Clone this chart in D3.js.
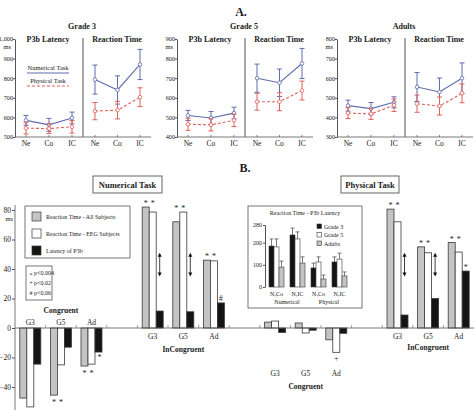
<!DOCTYPE html>
<html>
<head>
<meta charset="utf-8">
<script src="https://cdn.jsdelivr.net/npm/d3@7"></script>
<style>
  body { margin: 0; background: #fff; }
  text { font-family: "Liberation Serif", "DejaVu Serif", serif; fill: #222; }
</style>
</head>
<body>
<script>
// ---- part A: line panels
const conds = ["Ne", "Co", "IC"]
const gradesA = ["Grade 3", "Grade 5", "Adults"]
const yTopA = [1000, 900, 800]
const yBotA = [500, 400, 300]

const p3bNum = [[585, 562, 597], [510, 497, 522], [460, 445, 477]]
const p3bNumErr = [[25, 33, 30], [26, 33, 30], [28, 31, 28]]
const p3bPhy = [[545, 543, 552], [465, 462, 485], [422, 418, 462]]
const p3bPhyErr = [[30, 25, 32], [31, 31, 32], [28, 28, 32]]
const rtNum = [[793, 740, 870], [700, 677, 775], [555, 530, 600]]
const rtNumErr = [[74, 72, 77], [72, 70, 77], [74, 71, 78]]
const rtPhy = [[632, 637, 703], [580, 580, 637], [470, 458, 523]]
const rtPhyErr = [[44, 45, 48], [43, 46, 48], [44, 46, 48]]

// ---- part B: difference bars
const groupsB = ["G3", "G5", "Ad"]
const sectionsB = ["NumCong", "NumInc", "PhyCong", "PhyInc"]
const sectionNames = ["Congruent", "InCongruent", "Congruent", "InCongruent"]
const rtAll = [-47.5, -45.5, -25.8, 82, 72, 46, 4, 3.4, -8, 80.6, 55, 58]
const rtEEG = [-53.5, -25, -24.5, 78.6, 78.6, 45.5, 4.7, -3.4, -16.5, 72, 51, 51.5]
const latP3b = [-24.5, -13, -16.3, 11.5, 11, 17, -3, -1.5, -3.6, 8.8, 20, 38.6]
const markAll = ["*", "*", "*", "*", "*", "*", "", "", "", "*", "*", "*"]
const markEEG = ["*", "*", "*", "*", "*", "*", "", "", "+", "*", "*", "*"]
const markP3b = ["", "", "*", "", "", "#", "", "", "", "", "", "*"]
const arrowIdx = [3, 4, 9, 10]
const arrowSpan = [35, 51]
const yTicksB = [-40, -20, 0, 20, 40, 60, 80]

// ---- inset
const insetCats = ["N,Co", "N,IC", "N,Co", "N,IC"]
const insetG3 = [185, 235, 86, 113]
const insetG3Err = [32, 31, 22, 23]
const insetG5 = [181, 217, 113, 126]
const insetG5Err = [36, 32, 23, 27]
const insetAd = [90, 108, 36, 50]
const insetAdErr = [27, 28, 18, 18]

const W = 475, H = 410
const BLUE = "#5f6cae", RED = "#e0605a"
const GRAY = "#c4c4c4", BLACK = "#141414", EDGE = "#3a3a3a"

const svg = d3.select("body").append("svg")
    .attr("width", W)
    .attr("height", H)

svg.append("text").attr("x", 241).attr("y", 16).attr("text-anchor", "middle")
  .attr("font-size", 12).attr("font-weight", "bold").text("A.")
svg.append("text").attr("x", 245).attr("y", 172).attr("text-anchor", "middle")
  .attr("font-size", 12).attr("font-weight", "bold").text("B.")

// ================= part A
const originsA = [15, 177, 337]

function drawSeries(g, x, y, vals, errs, color, dashed) {
  const pts = conds.map((c, i) => ({c: c, v: vals[i], e: errs[i]}))
  pts.forEach(p => {
    g.append("line").attr("x1", x(p.c)).attr("x2", x(p.c))
      .attr("y1", y(p.v - p.e)).attr("y2", y(p.v + p.e))
      .attr("stroke", color).attr("stroke-width", 1)
    ;[p.v - p.e, p.v + p.e].forEach(v => {
      g.append("line").attr("x1", x(p.c) - 2.5).attr("x2", x(p.c) + 2.5)
        .attr("y1", y(v)).attr("y2", y(v))
        .attr("stroke", color).attr("stroke-width", 1)
    })
  })
  g.append("path").datum(pts)
    .attr("d", d3.line().x(d => x(d.c)).y(d => y(d.v)))
    .attr("fill", "none").attr("stroke", color).attr("stroke-width", 1.1)
    .attr("stroke-dasharray", dashed ? "3,2" : null)
  g.selectAll(null).data(pts).enter().append("circle")
    .attr("cx", d => x(d.c)).attr("cy", d => y(d.v)).attr("r", 1.8)
    .attr("fill", "#fff").attr("stroke", color).attr("stroke-width", 0.8)
}

gradesA.forEach((grade, gi) => {
  const g = svg.append("g").attr("transform", `translate(${originsA[gi]},0)`)
  const y = d3.scaleLinear().domain([yBotA[gi], yTopA[gi]]).range([137, 39])
  const xL = d3.scalePoint().domain(conds).range([11, 57])
  const xR = d3.scalePoint().domain(conds).range([80, 125])

  const ax = g.append("g")
    .call(d3.axisLeft(y).tickValues(d3.range(yBotA[gi], yTopA[gi] + 1, 100))
      .tickSize(2).tickSizeOuter(0).tickPadding(0))
  ax.select(".domain").attr("stroke", "#555")
  ax.selectAll(".tick line").attr("stroke", "#555")
  ax.selectAll("text").attr("font-size", 6.2).attr("font-family", "Liberation Serif").attr("fill", "#333")
  g.append("text").attr("x", -4).attr("y", 49).attr("text-anchor", "end")
    .attr("font-size", 6.5).attr("fill", "#333").text("ms")

  // baseline + divider
  g.append("line").attr("x1", 0).attr("x2", 136).attr("y1", 137).attr("y2", 137)
    .attr("stroke", "#555").attr("stroke-width", 0.8)
  g.append("line").attr("x1", 68).attr("x2", 68).attr("y1", 38).attr("y2", 137)
    .attr("stroke", "#7a7a7a").attr("stroke-width", 1.3)
  ;[xL, xR].forEach(x => {
    conds.forEach(c => {
      g.append("line").attr("x1", x(c)).attr("x2", x(c)).attr("y1", 137).attr("y2", 135)
        .attr("stroke", "#555").attr("stroke-width", 0.7)
      g.append("text").attr("x", x(c)).attr("y", 146).attr("text-anchor", "middle")
        .attr("font-size", 7.5).text(c)
    })
  })

  g.append("text").attr("x", 67).attr("y", 29).attr("text-anchor", "middle")
    .attr("font-size", 8).attr("font-weight", "bold").text(grade)
  g.append("text").attr("x", 33).attr("y", 42).attr("text-anchor", "middle")
    .attr("font-size", 8).attr("font-weight", "bold").text("P3b Latency")
  g.append("text").attr("x", 102).attr("y", 42).attr("text-anchor", "middle")
    .attr("font-size", 8).attr("font-weight", "bold").text("Reaction Time")

  drawSeries(g, xL, y, p3bNum[gi], p3bNumErr[gi], BLUE, false)
  drawSeries(g, xL, y, p3bPhy[gi], p3bPhyErr[gi], RED, true)
  drawSeries(g, xR, y, rtNum[gi], rtNumErr[gi], BLUE, false)
  drawSeries(g, xR, y, rtPhy[gi], rtPhyErr[gi], RED, true)

  if (gi === 0) {
    g.append("text").attr("x", 33).attr("y", 70).attr("text-anchor", "middle")
      .attr("font-size", 6.5).text("Numerical Task")
    g.append("line").attr("x1", 12).attr("x2", 54).attr("y1", 73).attr("y2", 73)
      .attr("stroke", BLUE).attr("stroke-width", 1.2)
    g.append("text").attr("x", 33).attr("y", 83).attr("text-anchor", "middle")
      .attr("font-size", 6.5).text("Physical Task")
    g.append("line").attr("x1", 12).attr("x2", 54).attr("y1", 86).attr("y2", 86)
      .attr("stroke", RED).attr("stroke-width", 1.2).attr("stroke-dasharray", "3,2")
  }
})

// ================= part B
const slots = []
sectionsB.forEach((s, si) => {
  groupsB.forEach(gr => slots.push(s + "-" + gr))
  if (si < sectionsB.length - 1) slots.push("gap" + si)
})
const xB = d3.scaleBand().domain(slots).range([15, 474])
const sub = d3.scaleBand().domain(["all", "eeg", "p3b"]).range([0, 21])
const off = (xB.bandwidth() - 21) / 2
const yB = d3.scaleLinear().domain([-40, 80]).range([387, 210])
const y0 = yB(0)

const rowsB = rtAll.map((v, i) => ({
  key: sectionsB[Math.floor(i / 3)] + "-" + groupsB[i % 3],
  sec: Math.floor(i / 3), gr: groupsB[i % 3],
  all: v, eeg: rtEEG[i], p3b: latP3b[i],
  mAll: markAll[i], mEEG: markEEG[i], mP3b: markP3b[i]
}))

const fills = {all: GRAY, eeg: "#fff", p3b: BLACK}
const gB = svg.append("g")
rowsB.forEach(r => {
  ["all", "eeg", "p3b"].forEach(k => {
    const v = r[k]
    gB.append("rect")
      .attr("x", xB(r.key) + off + sub(k))
      .attr("width", sub.bandwidth())
      .attr("y", Math.min(yB(v), y0))
      .attr("height", Math.abs(yB(v) - y0))
      .attr("fill", fills[k]).attr("stroke", EDGE).attr("stroke-width", 0.8)
  })
})

// axis
const axB = svg.append("g").attr("transform", "translate(15,0)")
  .call(d3.axisLeft(yB).tickValues(yTicksB).tickSize(3).tickSizeOuter(0).tickPadding(1))
axB.select(".domain").remove()
axB.selectAll(".tick line").attr("stroke", "#555")
axB.selectAll("text").attr("font-size", 7.6).attr("font-family", "Liberation Serif").attr("fill", "#333")
axB.append("line").attr("x1", 0).attr("x2", 0).attr("y1", 205).attr("y2", 410)
  .attr("stroke", "#555").attr("stroke-width", 0.8)
svg.append("text").attr("x", 13).attr("y", 221).attr("text-anchor", "end")
  .attr("font-size", 6.5).attr("fill", "#333").text("ms")

svg.append("line").attr("x1", 15).attr("x2", 474).attr("y1", y0).attr("y2", y0)
  .attr("stroke", "#555").attr("stroke-width", 0.8)
d3.range(1, slots.length).forEach(i => {
  const x = 15 + i * xB.step()
  svg.append("line").attr("x1", x).attr("x2", x).attr("y1", y0 - 3).attr("y2", y0)
    .attr("stroke", "#777").attr("stroke-width", 0.7)
})

// group and section labels
const labelY = [325, 339, 376, 339]
const secY = [313, 352, 389, 350]
sectionsB.forEach((s, si) => {
  groupsB.forEach(gr => {
    gB.append("text").attr("x", xB(s + "-" + gr) + xB.bandwidth() / 2)
      .attr("y", labelY[si]).attr("text-anchor", "middle")
      .attr("font-size", 7.5).text(gr)
  })
  gB.append("text").attr("x", xB(s + "-G5") + xB.bandwidth() / 2)
    .attr("y", secY[si]).attr("text-anchor", "middle")
    .attr("font-size", 7.5).attr("font-weight", "bold").text(sectionNames[si])
})

// significance marks
function mark(x, cy, sym) {
  const k = sym === "*" ? 4.2 : 2.8
  gB.append("text").attr("x", x).attr("y", cy + k).attr("text-anchor", "middle")
    .attr("font-size", sym === "*" ? 8 : 7.5).text(sym)
}
rowsB.forEach(r => {
  const rtKeys = ["all", "eeg"].filter(k => (k === "all" ? r.mAll : r.mEEG))
  if (rtKeys.length) {
    const vals = rtKeys.map(k => r[k])
    const ext = vals[0] < 0 ? d3.min(vals) : d3.max(vals)
    const cy = ext < 0 ? yB(ext) + 6 : yB(ext) - 5
    rtKeys.forEach(k => mark(xB(r.key) + off + sub(k) + sub.bandwidth() / 2, cy,
      k === "all" ? r.mAll : r.mEEG))
  }
  if (r.mP3b) {
    const cy = r.p3b < 0 ? yB(r.p3b) + 4 : yB(r.p3b) - 5
    mark(xB(r.key) + off + sub("p3b") + sub.bandwidth() / 2 + (r.p3b < 0 ? 1 : 0), cy, r.mP3b)
  }
})

// double arrows
arrowIdx.forEach(i => {
  const r = rowsB[i]
  const x = xB(r.key) + off + sub("p3b") + sub.bandwidth() / 2
  const ya = yB(arrowSpan[1]), yb = yB(arrowSpan[0])
  gB.append("line").attr("x1", x).attr("x2", x).attr("y1", ya + 3).attr("y2", yb - 3)
    .attr("stroke", "#111").attr("stroke-width", 0.8)
  gB.append("path").attr("d", `M${x},${ya}L${x - 2},${ya + 4}L${x + 2},${ya + 4}Z`).attr("fill", "#111")
  gB.append("path").attr("d", `M${x},${yb}L${x - 2},${yb - 4}L${x + 2},${yb - 4}Z`).attr("fill", "#111")
})

// task title boxes
;[["Numerical Task", 93, 69], ["Physical Task", 341, 58]].forEach(t => {
  svg.append("rect").attr("x", t[1]).attr("y", 176).attr("width", t[2]).attr("height", 17)
    .attr("fill", "#fff").attr("stroke", "#555").attr("stroke-width", 0.9)
  svg.append("text").attr("x", t[1] + t[2] / 2).attr("y", 187.5).attr("text-anchor", "middle")
    .attr("font-size", 8.5).attr("font-weight", "bold").text(t[0])
})

// legend
const legItems = [["Reaction Time - All Subjects", GRAY], ["Reaction Time - EEG Subjects", "#fff"], ["Latency of P3b", BLACK]]
svg.append("rect").attr("x", 25).attr("y", 206).attr("width", 105).attr("height", 52)
  .attr("fill", "#fff").attr("stroke", "#555").attr("stroke-width", 0.8)
legItems.forEach((it, i) => {
  const yy = 212 + i * 17
  svg.append("rect").attr("x", 32).attr("y", yy).attr("width", 9).attr("height", 9)
    .attr("fill", it[1]).attr("stroke", EDGE).attr("stroke-width", 0.7)
  svg.append("text").attr("x", 46).attr("y", yy + 7).attr("font-size", 6).text(it[0])
})
const sigItems = [["*", "p<0.004"], ["+", "p<0.02"], ["#", "p<0.06"]]
svg.append("rect").attr("x", 26).attr("y", 266).attr("width", 26).attr("height", 34)
  .attr("fill", "#fff").attr("stroke", "#555").attr("stroke-width", 0.8)
sigItems.forEach((it, i) => {
  const yy = 275 + i * 10
  svg.append("text").attr("x", 31).attr("y", yy + (it[0] === "*" ? 2 : 0)).attr("text-anchor", "middle")
    .attr("font-size", 6).text(it[0])
  svg.append("text").attr("x", 34).attr("y", yy).attr("font-size", 6).text(it[1])
})

// ================= inset
const gi = svg.append("g")
gi.append("rect").attr("x", 248).attr("y", 206).attr("width", 114).attr("height", 102)
  .attr("fill", "#fff").attr("stroke", "#555").attr("stroke-width", 0.8)
gi.append("text").attr("x", 305).attr("y", 215).attr("text-anchor", "middle")
  .attr("font-size", 6).text("Reaction Time - P3b Latency")
const xi = d3.scaleBand().domain(d3.range(insetCats.length)).range([266, 350])
const si = d3.scaleBand().domain(["g3", "g5", "ad"]).range([0, 15])
const yi = d3.scaleLinear().domain([0, 280]).range([287, 225])
const axI = gi.append("g").attr("transform", "translate(265,0)")
  .call(d3.axisLeft(yi).tickValues([0, 100, 200, 280]).tickSize(2).tickSizeOuter(0).tickPadding(1))
axI.select(".domain").attr("stroke", "#555")
axI.selectAll(".tick line").attr("stroke", "#555")
axI.selectAll("text").attr("font-size", 6).attr("font-family", "Liberation Serif").attr("fill", "#333")

const insetSeries = [["g3", insetG3, insetG3Err, BLACK], ["g5", insetG5, insetG5Err, "#fff"], ["ad", insetAd, insetAdErr, GRAY]]
insetSeries.forEach(s => {
  s[1].forEach((v, i) => {
    const x = xi(i) + 3 + si(s[0])
    const cx = x + si.bandwidth() / 2
    gi.append("line").attr("x1", cx).attr("x2", cx).attr("y1", yi(v)).attr("y2", yi(v + s[2][i]))
      .attr("stroke", "#444").attr("stroke-width", 0.7)
    gi.append("line").attr("x1", cx - 2).attr("x2", cx + 2).attr("y1", yi(v + s[2][i])).attr("y2", yi(v + s[2][i]))
      .attr("stroke", "#444").attr("stroke-width", 0.7)
    gi.append("rect").attr("x", x).attr("width", si.bandwidth())
      .attr("y", yi(v)).attr("height", yi(0) - yi(v))
      .attr("fill", s[3]).attr("stroke", EDGE).attr("stroke-width", 0.6)
  })
})
insetCats.forEach((c, i) => {
  gi.append("text").attr("x", xi(i) + xi.bandwidth() / 2).attr("y", 296)
    .attr("text-anchor", "middle").attr("font-size", 6).text(c)
})
;[["Numerical", 0], ["Physical", 2]].forEach(t => {
  gi.append("text").attr("x", xi(t[1]) + xi.bandwidth()).attr("y", 304)
    .attr("text-anchor", "middle").attr("font-size", 6).text(t[0])
})
;[["Grade 3", BLACK], ["Grade 5", "#fff"], ["Adults", GRAY]].forEach((it, i) => {
  const yy = 224 + i * 8.5
  gi.append("rect").attr("x", 317).attr("y", yy).attr("width", 4.5).attr("height", 4.5)
    .attr("fill", it[1]).attr("stroke", EDGE).attr("stroke-width", 0.6)
  gi.append("text").attr("x", 324).attr("y", yy + 4.5).attr("font-size", 6).text(it[0])
})
</script>
</body>
</html>
